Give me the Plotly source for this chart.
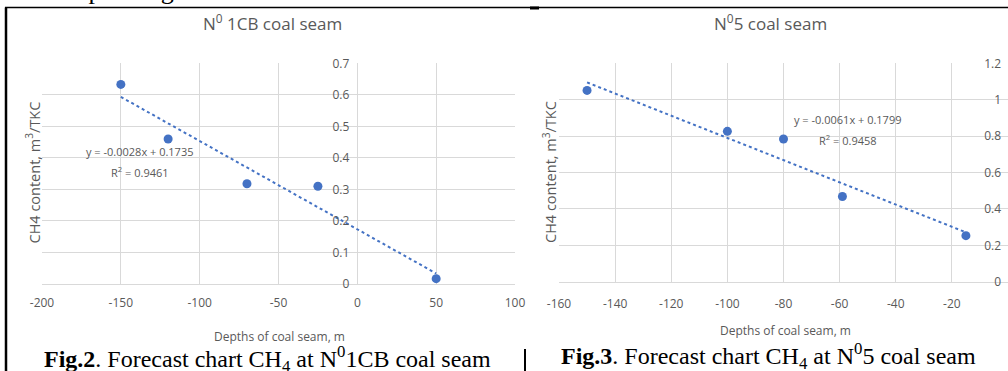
import plotly.graph_objects as go

W, H = 1008, 371

# ---- data: chart 1 (N0 1CB coal seam)
depth_1cb = [-150, -120, -70, -25, 50]
ch4_1cb = [0.633, 0.46, 0.318, 0.31, 0.017]
slope_1cb, intercept_1cb = -0.0028, 0.1735
eq_1cb = "y = -0.0028x + 0.1735"
r2_1cb = "R<sup>2</sup> = 0.9461"

# ---- data: chart 2 (N0 5 coal seam)
depth_5 = [-150, -100, -80, -59, -15]
ch4_5 = [1.051, 0.826, 0.784, 0.468, 0.253]
slope_5, intercept_5 = -0.0061, 0.1799
eq_5 = "y = -0.0061x + 0.1799"
r2_5 = "R<sup>2</sup> = 0.9458"

x_ticks_1 = [-200, -150, -100, -50, 0, 50, 100]
y_ticks_1 = [0, 0.1, 0.2, 0.3, 0.4, 0.5, 0.6, 0.7]
x_ticks_2 = [-160, -140, -120, -100, -80, -60, -40, -20]
y_ticks_2 = [0, 0.2, 0.4, 0.6, 0.8, 1, 1.2]

BLUE = "#4472C4"
GRID = "#d9d9d9"
TXT = "#595959"
FONT = "Open Sans"
SERIF = "Liberation Serif, Times New Roman, serif"


def px(x):
    return x / W


def py(y):
    return 1 - y / H


def trend(xs, m, b):
    xe = [min(xs), max(xs)]
    return xe, [m * v + b for v in xe]


def lbl(v):
    return f"{v:g}"


fig = go.Figure()

fig.add_trace(go.Scatter(x=depth_1cb, y=ch4_1cb, mode="markers",
                         marker=dict(color=BLUE, size=9), xaxis="x", yaxis="y",
                         showlegend=False))
tx, ty = trend(depth_1cb, slope_1cb, intercept_1cb)
fig.add_trace(go.Scatter(x=tx, y=ty, mode="lines",
                         line=dict(color=BLUE, width=2, dash="dot"),
                         xaxis="x", yaxis="y", showlegend=False))

fig.add_trace(go.Scatter(x=depth_5, y=ch4_5, mode="markers",
                         marker=dict(color=BLUE, size=9), xaxis="x2", yaxis="y2",
                         showlegend=False))
tx, ty = trend(depth_5, slope_5, intercept_5)
fig.add_trace(go.Scatter(x=tx, y=ty, mode="lines",
                         line=dict(color=BLUE, width=2, dash="dot"),
                         xaxis="x2", yaxis="y2", showlegend=False))

tickfont = dict(family=FONT, size=12, color=TXT)

x1_dom = [px(42), px(515)]
x2_dom = [px(559), 1.0]

fig.update_layout(
    template="none",
    width=W, height=H,
    margin=dict(l=0, r=0, t=0, b=0, pad=0, autoexpand=False),
    paper_bgcolor="white", plot_bgcolor="white",
    xaxis=dict(domain=x1_dom, range=[-200, 100], tickvals=x_ticks_1,
               ticktext=[lbl(v) for v in x_ticks_1], automargin=False,
               showgrid=True, gridcolor=GRID, gridwidth=1,
               zeroline=True, zerolinecolor=GRID, zerolinewidth=1,
               showline=True, linecolor=GRID, anchor="y",
               ticks="", tickfont=tickfont, ticklabelstandoff=8),
    yaxis=dict(domain=[py(284), py(63.3)], range=[0, 0.7], tickvals=y_ticks_1,
               ticktext=[lbl(v) for v in y_ticks_1], automargin=False,
               showgrid=True, gridcolor=GRID, gridwidth=1, zeroline=False, showline=False,
               anchor="free", position=px(42 + 473 * 2 / 3), side="left",
               ticks="", tickfont=tickfont, ticklabelstandoff=8),
    xaxis2=dict(domain=x2_dom, range=[-160, 0], tickvals=x_ticks_2,
                ticktext=[lbl(v) for v in x_ticks_2], automargin=False,
                showgrid=True, gridcolor=GRID, gridwidth=1, zeroline=False,
                showline=True, linecolor=GRID, anchor="y2",
                ticks="", tickfont=tickfont, ticklabelstandoff=11),
    yaxis2=dict(domain=[py(281.7), py(63.3)], range=[0, 1.2], tickvals=y_ticks_2,
                ticktext=[lbl(v) for v in y_ticks_2], automargin=False,
                showgrid=True, gridcolor=GRID, gridwidth=1, zeroline=False, showline=False,
                anchor="free", position=1.0, side="left",
                ticks="", tickfont=tickfont, ticklabelstandoff=7),
)


def note(text, x, y, size, family=FONT, color=TXT, xref="paper", yref="paper", **kw):
    d = dict(text=text, x=x, y=y, xref=xref, yref=yref, showarrow=False,
             xanchor="center", yanchor="middle",
             font=dict(family=family, size=size, color=color))
    d.update(kw)
    return d


ann = []
# chart titles
ann.append(note("N<sup>0</sup> 1CB coal seam", px(272), py(23), 17))
ann.append(note("N<sup>0</sup>5 coal seam", px(770), py(23), 17))
# axis titles
for cx, cy in [(279, 336.7), (785, 330)]:
    ann.append(note("Depths of coal seam, m", px(cx), py(cy), 12))
for cx, cy in [(33, 172.5), (549, 172)]:
    ann.append(note("CH4 content, m<sup>3</sup>/TKC", px(cx), py(cy), 14.5, textangle=-90))
# trendline equations
ann.append(note(eq_1cb, -138, 0.419, 11, xref="x", yref="y"))
ann.append(note(r2_1cb, -138, 0.354, 11, xref="x", yref="y"))
ann.append(note(eq_5, -57, 0.891, 11, xref="x2", yref="y2"))
ann.append(note(r2_5, -57, 0.777, 11, xref="x2", yref="y2"))
# captions
ann.append(note("<b>Fig.2</b>. Forecast chart CH<sub>4</sub> at N<sup>0</sup>1CB coal seam",
                px(267.5), py(359), 24, family=SERIF, color="black"))
ann.append(note("<b>Fig.3</b>. Forecast chart CH<sub>4</sub> at N<sup>0</sup>5 coal seam",
                px(768.5), py(356), 24, family=SERIF, color="black"))
# cut-off text at top of page
ann.append(note("corresponding coal seams", px(23), py(-9), 26, family=SERIF, color="black",
                xanchor="left"))
fig.update_layout(annotations=ann)

shapes = [
    dict(type="line", xref="paper", yref="paper", x0=px(6), x1=px(6), y0=py(7.5), y1=0,
         line=dict(color="black", width=2.5)),
    dict(type="line", xref="paper", yref="paper", x0=px(5), x1=1, y0=py(7.5), y1=py(7.5),
         line=dict(color="black", width=1.5)),
    dict(type="line", xref="paper", yref="paper", x0=px(530), x1=px(539), y0=py(8), y1=py(8),
         line=dict(color="black", width=3)),
    dict(type="line", xref="paper", yref="paper", x0=px(525), x1=px(525), y0=py(349), y1=0,
         line=dict(color="black", width=2)),
]
fig.update_layout(shapes=shapes)

fig.write_html("out.html", config={"displayModeBar": False},
               post_script="document.body.style.margin='0px';document.body.style.overflow='hidden';")
